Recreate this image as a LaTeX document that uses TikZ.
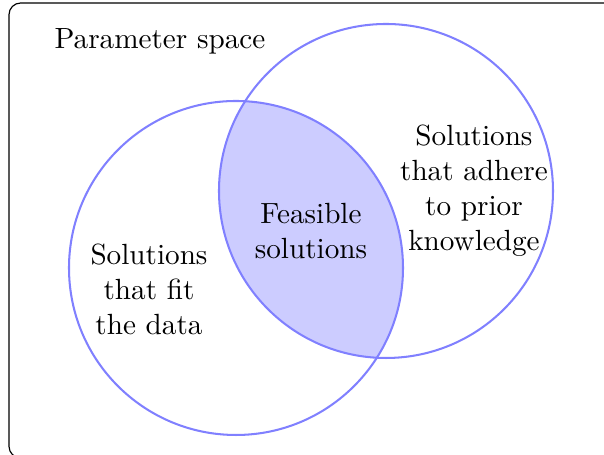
\documentclass[tikz,border=0pt]{standalone}
\begin{document}
\begin{tikzpicture}[x=0.3425pt,y=-0.3425pt,
  setline/.style={draw=blue!50,line width=0.7pt},
  label/.style={align=center,font=\normalsize,inner sep=0pt}]
  \clip (0,0) rectangle (604,455);
  \useasboundingbox (0,0) rectangle (604,455);
  % frame around the parameter space
  \draw[line width=0.4pt,rounded corners=4pt] (9,3) rectangle (640,458);
  % intersection of the two sets
  \begin{scope}
    \clip (236,268) circle[radius=167];
    \fill[blue!20] (386,191) circle[radius=167];
  \end{scope}
  \draw[setline] (236,268) circle[radius=167];
  \draw[setline] (386,191) circle[radius=167];
  \node[label] (space) at (160,41) {Parameter space};
  \node[label] (fit) at (149,289) {Solutions\\that fit\\the data};
  \node[label] (feas) at (311,231) {Feasible\\solutions};
  \node[label] (prior) at (474,191) {Solutions\\that adhere\\to prior\\knowledge};
\end{tikzpicture}
\end{document}
